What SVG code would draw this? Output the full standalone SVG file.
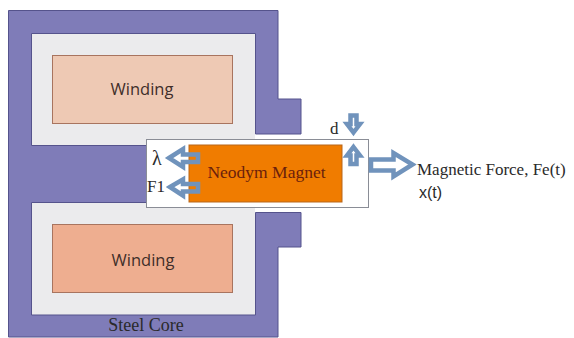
<svg xmlns="http://www.w3.org/2000/svg" width="574" height="338" viewBox="0 0 574 338">
<style>
.win{stroke:#a8745f;stroke-width:1}
.gap{fill:#ebebed}
.arrow{fill:none;stroke:#7093bc;stroke-width:4.500;stroke-linejoin:miter}
.serif{font-family:"Liberation Serif",serif;fill:#2a2a2a}
.sans{font-family:"Open Sans","Liberation Sans",sans-serif;fill:#3f2e2a}
</style>
<rect width="574" height="338" fill="#fff"/>
<g id="air-gap">
<path class="gap" d="M31 33H255V139.500H146.500V145H31Z"/>
<path class="gap" d="M31 203H146.500V207.500H255V315H31Z"/>
</g>
<g id="steel-core">
<path d="M8.500 10.500H278V99H301V134H255.500V33.500H31.500V145.500H147V202.500H31.500V315H255.500V212.500H301V247H278V337H8.500Z" fill="#7f7cb8" stroke="#55538c" stroke-width="1"/>
</g>
<g id="winding-top">
<rect class="win" x="52.500" y="55.500" width="180" height="68" fill="#eec9b4"/>
<text class="sans" x="142" y="95" font-size="16.500" text-anchor="middle">Winding</text>
</g>
<g id="winding-bottom">
<rect class="win" x="52.500" y="224.500" width="180" height="68" fill="#eeae90"/>
<text class="sans" x="143" y="266" font-size="16.500" text-anchor="middle">Winding</text>
</g>
<g id="air-box">
<rect x="146.500" y="139.500" width="222" height="68" fill="#fff" stroke="#8a8d96" stroke-width="1"/>
</g>
<g id="magnet">
<rect x="189" y="145" width="153" height="57" fill="#f07c00" stroke="#b8661a" stroke-width="1"/>
<text x="266.500" y="178" font-size="17.500" text-anchor="middle" font-family="'Liberation Serif',serif" fill="#6b1f0c">Neodym Magnet</text>
</g>
<g id="connectors">
<path class="arrow" d="M169 158L183 149V154.500H198V162H183V167Z"/>
<path class="arrow" d="M170 187L183 179.500V184H198V191.500H183V195.500Z"/>
<path class="arrow" d="M353.500 147L360 155.500H356.500V164H350.500V155.500H347Z"/>
<path class="arrow" d="M353.500 132.500L360 124H356.500V115.500H350.500V124H347Z"/>
<path class="arrow" d="M371 159.500H393.500V153L412.500 164.500L393.500 176.500V170.500H371Z"/>
</g>
<g id="labels">
<text class="serif" x="330" y="134" font-size="17">d</text>
<text class="serif" x="152" y="165" font-size="20">λ</text>
<text class="serif" x="147" y="192" font-size="17">F1</text>
<text class="serif" x="417" y="175" font-size="17">Magnetic Force, Fe(t)</text>
<text x="419" y="198" font-size="16" font-family="'Liberation Sans',sans-serif" fill="#2a2a2a">x(t)</text>
<text class="serif" x="146" y="331" font-size="18" text-anchor="middle">Steel Core</text>
</g>
</svg>
